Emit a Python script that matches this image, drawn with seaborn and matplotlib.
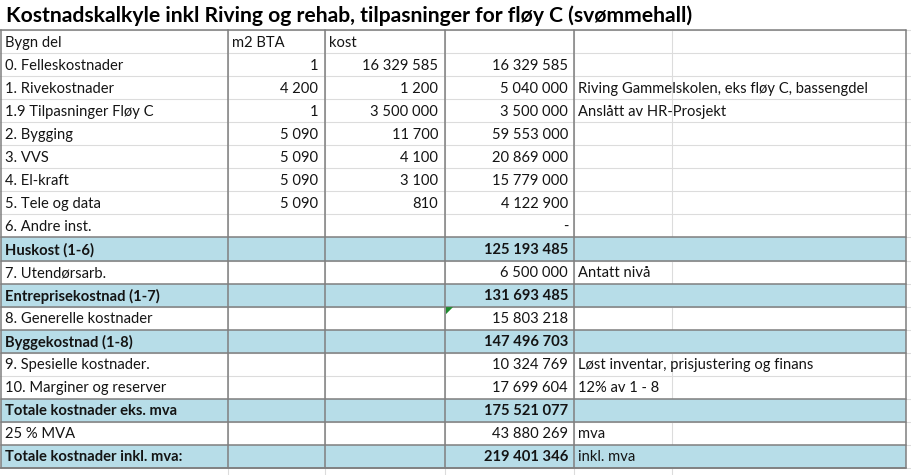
import matplotlib
matplotlib.use("Agg")
import matplotlib.pyplot as plt
import seaborn as sns
from matplotlib.patches import Polygon

sns.set_theme(style="white")
plt.rcParams['font.family'] = ['Lato', 'DejaVu Sans']

# ---------------- data ----------------
title = "Kostnadskalkyle inkl Riving og rehab, tilpasninger for fløy C (svømmehall)"
headers = ["Bygn del", "m2 BTA", "kost", "", ""]
labels = ["0. Felleskostnader", "1. Rivekostnader", "1.9 Tilpasninger Fløy C",
          "2. Bygging", "3. VVS", "4. El-kraft", "5. Tele og data", "6. Andre inst.",
          "Huskost (1-6)", "7. Utendørsarb.", "Entreprisekostnad (1-7)",
          "8. Generelle kostnader", "Byggekostnad (1-8)", "9. Spesielle kostnader.",
          "10. Marginer og reserver", "Totale kostnader eks. mva", "25 % MVA",
          "Totale kostnader inkl. mva:"]
m2_bta = [1, 4200, 1, 5090, 5090, 5090, 5090, None,
          None, None, None, None, None, None, None, None, None, None]
unit_cost = [16329585, 1200, 3500000, 11700, 4100, 3100, 810, None,
             None, None, None, None, None, None, None, None, None, None]
totals = [16329585, 5040000, 3500000, 59553000, 20869000, 15779000, 4122900, 0,
          125193485, 6500000, 131693485, 15803218, 147496703, 10324769,
          17699604, 175521077, 43880269, 219401346]
notes = ["", "Riving Gammelskolen, eks fløy C, bassengdel", "Anslått av HR-Prosjekt",
         "", "", "", "", "", "", "Antatt nivå", "", "", "", "Løst inventar, prisjustering og finans",
         "12% av 1 - 8", "", "mva", "inkl. mva"]
subtotal = [False, False, False, False, False, False, False, False,
            True, False, True, False, True, False, False, True, False, True]

# ---------------- layout ----------------
W, H = 911, 475
col_edges = [1, 228, 325, 445, 574, 906]
faint_x = [672]
top = 30.0
rh = 23.05
blue = "#b7dde8"
dark = "#7f7f7f"
faint = "#dcdcdc"
txt = "#141414"
fs = 10.6

fig = plt.figure(figsize=(W / 100, H / 100), dpi=100)
ax = fig.add_axes([0, 0, 1, 1])
ax.set_xlim(0, W)
ax.set_ylim(H, 0)
ax.axis("off")

nrows = len(labels) + 1
bottom = top + nrows * rh

def fmt(v):
    if v is None:
        return ""
    if v == 0:
        return "-"
    return f"{v:,}".replace(",", " ")

# faint grid (behind fills)
for x in col_edges[1:-1] + faint_x:
    ax.plot([x, x], [top, H], color=faint, lw=0.8, zorder=1)
for i in range(nrows + 1):
    y = top + i * rh
    ax.plot([0, W], [y, y], color=faint, lw=0.8, zorder=1)

# blue fills
for i, s in enumerate(subtotal):
    if s:
        y0 = top + (i + 1) * rh
        ax.fill_between([col_edges[0], col_edges[-1]], y0, y0 + rh, color=blue, lw=0, zorder=2)

# dark borders
for x in col_edges:
    ax.plot([x, x], [top, bottom], color=dark, lw=1.1, zorder=3)
ax.plot([0, col_edges[-1]], [top, top], color=dark, lw=1.1, zorder=3)
ax.plot([0, col_edges[-1]], [bottom, bottom], color=dark, lw=1.1, zorder=3)
for i, s in enumerate(subtotal):
    if s:
        y0 = top + (i + 1) * rh
        for y in (y0, y0 + rh):
            ax.plot([col_edges[0], col_edges[-1]], [y, y], color=dark, lw=1.1, zorder=3)

# green error indicator
r8 = labels.index("8. Generelle kostnader") + 1
yt = top + r8 * rh
ax.add_patch(Polygon([[446, yt + 0.5], [453, yt + 0.5], [446, yt + 7.5]],
                     closed=True, color="#1e8a2e", zorder=4, lw=0))

# title
ax.text(6, 15.5, title, fontsize=15.2, fontweight="bold", color="#000000",
        ha="left", va="center", zorder=5)

# header
yc = top + rh / 2 + 1
for j, h in enumerate(headers):
    if h:
        ax.text(col_edges[j] + 4, yc, h, fontsize=fs, color=txt, ha="left", va="center", zorder=5)

# body
for i in range(len(labels)):
    yc = top + (i + 1) * rh + rh / 2 + 1
    w = "bold" if subtotal[i] else "normal"
    ax.text(col_edges[0] + 4, yc, labels[i], fontsize=fs, color=txt, fontweight=w,
            ha="left", va="center", zorder=5)
    ax.text(col_edges[2] - 7, yc, fmt(m2_bta[i]), fontsize=fs, color=txt,
            ha="right", va="center", zorder=5)
    ax.text(col_edges[3] - 7, yc, fmt(unit_cost[i]), fontsize=fs, color=txt,
            ha="right", va="center", zorder=5)
    ax.text(col_edges[4] - 6, yc, fmt(totals[i]), fontsize=fs, color=txt, fontweight=w,
            ha="right", va="center", zorder=5)
    if notes[i]:
        ax.text(col_edges[4] + 4, yc, notes[i], fontsize=fs, color=txt,
                ha="left", va="center", zorder=5)

fig.savefig("out.png", dpi=100, facecolor="white")
